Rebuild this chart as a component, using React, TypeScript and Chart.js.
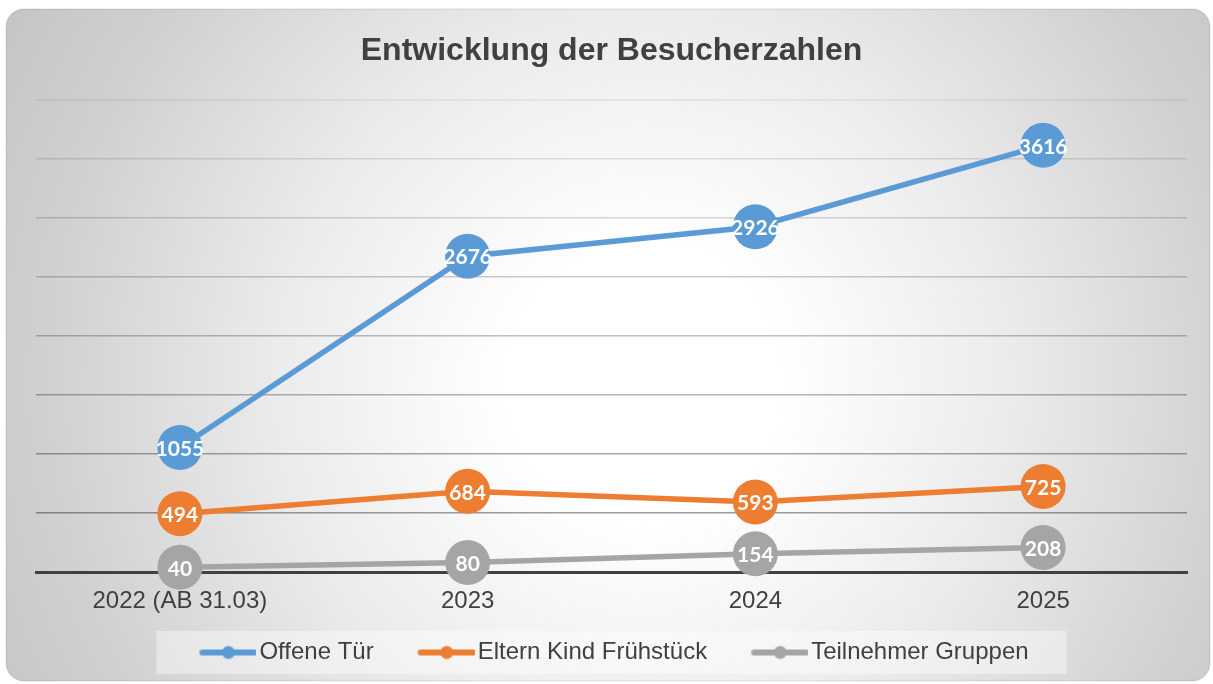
import React, { useEffect, useRef } from "react";
import { Chart, registerables } from "chart.js";

Chart.register(...registerables);

const chartTitle = "Entwicklung der Besucherzahlen";
const categories = ["2022 (AB 31.03)", "2023", "2024", "2025"];
const offeneTuer = [1055, 2676, 2926, 3616];
const elternKindFruehstueck = [494, 684, 593, 725];
const teilnehmerGruppen = [40, 80, 154, 208];
const seriesNames = ["Offene Tür", "Eltern Kind Frühstück", "Teilnehmer Gruppen"];
const seriesColors = ["#5B9BD5", "#ED7D31", "#A5A5A5"];
const yMin = 0;
const yMax = 4000;
const yStep = 500;

const FONT = "'Liberation Sans', Arial, sans-serif";
const TEXT = "#404040";
const LEGEND_SHIFT = -14.5;

function legendImage(color: string): HTMLCanvasElement {
  const c = document.createElement("canvas");
  c.width = 100;
  c.height = 16;
  const g = c.getContext("2d")!;
  g.strokeStyle = color;
  g.lineWidth = 6;
  g.lineCap = "round";
  g.beginPath();
  g.moveTo(46, 8);
  g.lineTo(98, 8);
  g.stroke();
  g.fillStyle = color;
  g.beginPath();
  g.arc(72, 8, 6.5, 0, Math.PI * 2);
  g.fill();
  return c;
}

const legendShiftPlugin = {
  id: "legendShift",
  afterUpdate(chart: any) {
    const lg = chart.legend;
    if (!lg) return;
    lg.left += LEGEND_SHIFT;
    lg.right += LEGEND_SHIFT;
    (lg.legendHitBoxes || []).forEach((h: any) => {
      h.left += LEGEND_SHIFT;
    });
  },
};

const backgroundPlugin = {
  id: "bgPanel",
  beforeDraw(chart: any) {
    const ctx = chart.ctx as CanvasRenderingContext2D;
    const W = chart.width;
    const H = chart.height;
    const x0 = 6, y0 = 9, x1 = W - 3, y1 = H - 3, r = 18;
    ctx.save();
    const cx = W * 0.53, cy = H * 0.56;
    const grad = ctx.createRadialGradient(cx, cy, 0, cx, cy, 750);
    grad.addColorStop(0, "#ffffff");
    grad.addColorStop(0.18, "#ffffff");
    grad.addColorStop(0.49, "#ebebeb");
    grad.addColorStop(0.8, "#d0d0d0");
    grad.addColorStop(1, "#c4c4c4");
    ctx.beginPath();
    (ctx as any).roundRect(x0, y0, x1 - x0, y1 - y0, r);
    ctx.fillStyle = grad;
    ctx.fill();
    ctx.strokeStyle = "rgba(0,0,0,0.12)";
    ctx.lineWidth = 1;
    ctx.stroke();

    const boxes = chart.legend && chart.legend.legendHitBoxes;
    if (boxes && boxes.length) {
      const first = boxes[0];
      const last = boxes[boxes.length - 1];
      const left = first.left - 9;
      const right = last.left + last.width + 38;
      const top = first.top - 9.5;
      const h = first.height + 19;
      ctx.fillStyle = "rgba(255,255,255,0.4)";
      ctx.fillRect(left, top, right - left, h);
    }
    ctx.restore();
  },
};

const valueLabelPlugin = {
  id: "valueLabels",
  afterDatasetsDraw(chart: any) {
    const ctx = chart.ctx as CanvasRenderingContext2D;
    ctx.save();
    ctx.font = "bold 21px Lato, 'Open Sans', sans-serif";
    ctx.fillStyle = "#ffffff";
    ctx.textAlign = "center";
    ctx.textBaseline = "middle";
    chart.data.datasets.forEach((ds: any, i: number) => {
      const meta = chart.getDatasetMeta(i);
      meta.data.forEach((pt: any, j: number) => {
        ctx.fillText(String(ds.data[j]), pt.x, pt.y + 1.5);
      });
    });
    ctx.restore();
  },
};

export default function App() {
  const ref = useRef<HTMLCanvasElement | null>(null);

  useEffect(() => {
    if (!ref.current) return;
    const seriesData = [offeneTuer, elternKindFruehstueck, teilnehmerGruppen];
    const legendImgs = seriesColors.map(legendImage);
    const chart = new Chart(ref.current, {
      type: "line",
      data: {
        labels: categories,
        datasets: seriesData.map((d, i) => ({
          label: seriesNames[i],
          data: d,
          borderColor: seriesColors[i],
          backgroundColor: seriesColors[i],
          borderWidth: 5.5,
          pointRadius: 22.5,
          pointHoverRadius: 22.5,
          pointBackgroundColor: seriesColors[i],
          pointBorderWidth: 0,
          tension: 0,
          clip: false as any,
        })),
      },
      options: {
        animation: false,
        responsive: false,
        events: [],
        layout: { padding: { left: 36, right: 26, top: 0, bottom: 9.5 } },
        plugins: {
          title: {
            display: true,
            text: chartTitle,
            color: TEXT,
            font: { family: FONT, size: 32, weight: "bold" },
            padding: { top: 32, bottom: 29.6 },
          },
          legend: {
            position: "bottom",
            labels: {
              usePointStyle: true,
              pointStyleWidth: 82,
              padding: 10,
              color: TEXT,
              font: { family: FONT, size: 24 },
              generateLabels: (c: any) => {
                const base = (Chart.defaults.plugins.legend.labels as any).generateLabels(c);
                return base.map((l: any, i: number) => ({ ...l, pointStyle: legendImgs[i] }));
              },
            },
          },
          tooltip: { enabled: false },
        },
        scales: {
          x: {
            offset: true,
            grid: { display: false, drawTicks: false },
            border: { display: true, color: TEXT, width: 3 },
            ticks: {
              color: TEXT,
              font: { family: FONT, size: 24 },
              padding: 14.85,
              maxRotation: 0,
              autoSkip: false,
            },
          },
          y: {
            min: yMin,
            max: yMax,
            ticks: { display: false, stepSize: yStep },
            border: { display: false },
            grid: {
              drawTicks: false,
              lineWidth: 1.5,
              color: (c: any) => {
                const v = c.tick ? c.tick.value : 0;
                if (v === 0) return "rgba(0,0,0,0)";
                const a = 0.07 + ((yMax - v) / yMax) * 0.35;
                return `rgba(0,0,0,${a.toFixed(3)})`;
              },
            },
          },
        },
      },
      plugins: [legendShiftPlugin, backgroundPlugin, valueLabelPlugin],
    } as any);
    return () => chart.destroy();
  }, []);

  return (
    <div style={{ position: "fixed", left: 0, top: 0, width: 1213, height: 684, background: "#ffffff" }}>
      <canvas ref={ref} width={1213} height={684} style={{ display: "block", width: 1213, height: 684 }} />
    </div>
  );
}
